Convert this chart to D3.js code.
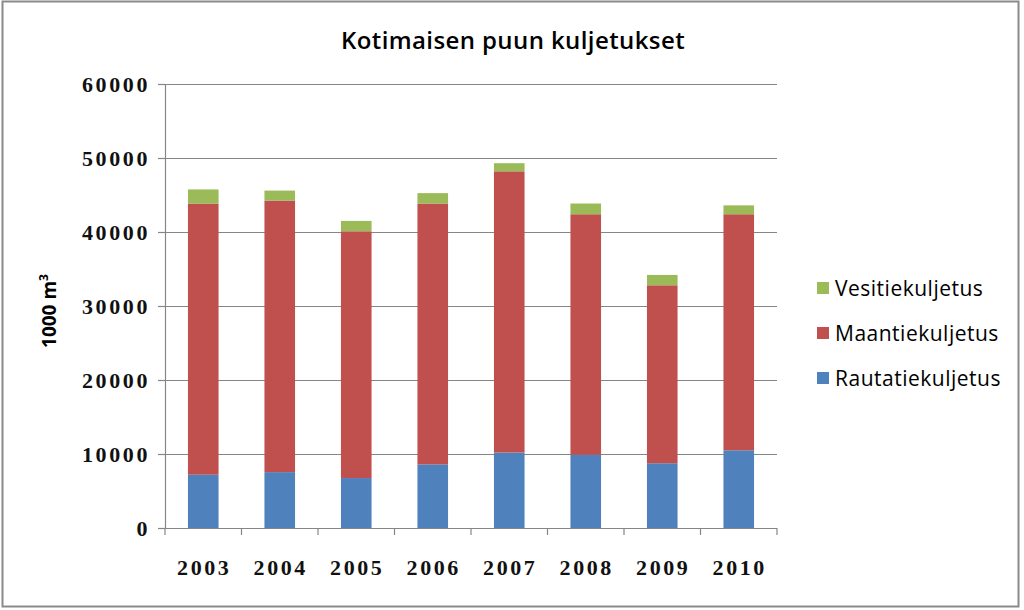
<!DOCTYPE html>
<html lang="fi">
<head>
    <meta charset="UTF-8">
    <script src="https://d3js.org/d3.v7.min.js"></script>
    <title>Kotimaisen puun kuljetukset</title>
    <style>
        html, body {
            margin: 0;
            padding: 0;
            background-color: #ffffff;
        }
        svg {
            display: block;
        }
    </style>
</head>
<body>
    <div id="chart"></div>
    <script>
        // data (1000 m3)
        let years = ['2003', '2004', '2005', '2006', '2007', '2008', '2009', '2010'];
        let rautatie = [7200, 7550, 6750, 8600, 10200, 9900, 8750, 10500];
        let maantie = [36650, 36700, 33350, 35250, 38000, 32500, 24050, 31900];
        let vesitie = [1900, 1350, 1400, 1400, 1100, 1450, 1400, 1200];
        let seriesNames = ['Rautatiekuljetus', 'Maantiekuljetus', 'Vesitiekuljetus'];
        let seriesColors = ['#4f81bd', '#c0504d', '#9bbb59'];
        let yTicks = [0, 10000, 20000, 30000, 40000, 50000, 60000];

        let width = 1024;
        let height = 610;
        let margin = { top: 84, right: 247, bottom: 82, left: 165 };

        let svg = d3.select('#chart').append('svg')
            .attr('width', width)
            .attr('height', height);

        // chart border
        svg.append('rect')
            .attr('x', 2.5).attr('y', 1.5)
            .attr('width', 1016).attr('height', 605)
            .attr('fill', '#fff')
            .attr('stroke', '#8a8a8a')
            .attr('stroke-width', 2);

        let rows = years.map((y, i) => ({
            year: y,
            Rautatiekuljetus: rautatie[i],
            Maantiekuljetus: maantie[i],
            Vesitiekuljetus: vesitie[i]
        }));
        let stacked = d3.stack().keys(seriesNames)(rows);

        let x = d3.scaleBand()
            .domain(years)
            .range([margin.left, width - margin.right])
            .paddingInner(0.6)
            .paddingOuter(0.3);

        let y = d3.scaleLinear()
            .domain([0, 60000])
            .range([height - margin.bottom, margin.top]);

        // gridlines
        svg.append('g')
            .selectAll('line')
            .data(yTicks.filter(t => t > 0))
            .join('line')
            .attr('x1', margin.left).attr('x2', width - margin.right)
            .attr('y1', d => Math.round(y(d)) + 0.5).attr('y2', d => Math.round(y(d)) + 0.5)
            .attr('stroke', '#868686')
            .attr('stroke-width', 1.2);

        // bars
        svg.append('g')
            .selectAll('g')
            .data(stacked)
            .join('g')
            .attr('fill', (d, i) => seriesColors[i])
            .selectAll('rect')
            .data(d => d)
            .join('rect')
            .attr('x', d => x(d.data.year))
            .attr('width', x.bandwidth())
            .attr('y', d => y(d[1]))
            .attr('height', d => y(d[0]) - y(d[1]));

        let tickFont = sel => sel
            .attr('fill', '#111')
            .style('font-family', '"Liberation Serif", serif')
            .style('font-weight', 'bold')
            .style('font-size', '22px')
            .style('letter-spacing', '2.6px');

        // y axis
        let yAxis = svg.append('g')
            .attr('transform', `translate(${margin.left},0)`)
            .call(d3.axisLeft(y).tickValues(yTicks).tickSize(7).tickPadding(8).tickFormat(d3.format('d')));
        yAxis.select('.domain').attr('stroke', '#868686').attr('stroke-width', 1.2);
        yAxis.selectAll('.tick line').attr('stroke', '#868686').attr('stroke-width', 1.2);
        yAxis.selectAll('.tick text').call(tickFont);

        // x axis with ticks between categories
        let xBase = height - margin.bottom;
        let gx = svg.append('g');
        gx.append('line')
            .attr('x1', margin.left).attr('x2', width - margin.right)
            .attr('y1', xBase + 0.5).attr('y2', xBase + 0.5)
            .attr('stroke', '#868686').attr('stroke-width', 1.2);
        let step = x.step();
        let bounds = d3.range(years.length + 1).map(i => margin.left + i * step);
        gx.selectAll('line.tk')
            .data(bounds)
            .join('line')
            .attr('class', 'tk')
            .attr('x1', d => d).attr('x2', d => d)
            .attr('y1', xBase).attr('y2', xBase + 7)
            .attr('stroke', '#868686').attr('stroke-width', 1.2);
        gx.selectAll('text')
            .data(years)
            .join('text')
            .attr('x', d => x(d) + x.bandwidth() / 2 + 1)
            .attr('y', xBase + 47)
            .attr('text-anchor', 'middle')
            .call(tickFont)
            .text(d => d);

        // title
        svg.append('text')
            .attr('x', 513)
            .attr('y', 49)
            .attr('text-anchor', 'middle')
            .style('font-family', '"Open Sans", sans-serif')
            .style('font-weight', '600')
            .style('font-size', '24px')
            .style('letter-spacing', '0.4px')
            .text('Kotimaisen puun kuljetukset');

        // y axis title
        let yt = svg.append('text')
            .attr('transform', 'translate(56,311) rotate(-90)')
            .attr('text-anchor', 'middle')
            .style('font-family', '"Open Sans", sans-serif')
            .style('font-weight', 'bold')
            .style('font-size', '19px');
        yt.append('tspan').text('1000 m');
        yt.append('tspan').attr('dy', -8).style('font-size', '12px').text('3');

        // legend, top to bottom reversed like the stack
        let legendItems = seriesNames.map((n, i) => ({ name: n, color: seriesColors[i] })).reverse();
        let legend = svg.append('g')
            .selectAll('g')
            .data(legendItems)
            .join('g')
            .attr('transform', (d, i) => `translate(817,${288 + i * 45})`);
        legend.append('rect')
            .attr('x', 0).attr('y', -6)
            .attr('width', 12).attr('height', 12)
            .attr('fill', d => d.color);
        legend.append('text')
            .attr('x', 18)
            .attr('y', 8)
            .style('font-family', '"Open Sans", sans-serif')
            .style('font-size', '21px')
            .style('letter-spacing', '0.5px')
            .text(d => d.name);
    </script>
</body>
</html>
